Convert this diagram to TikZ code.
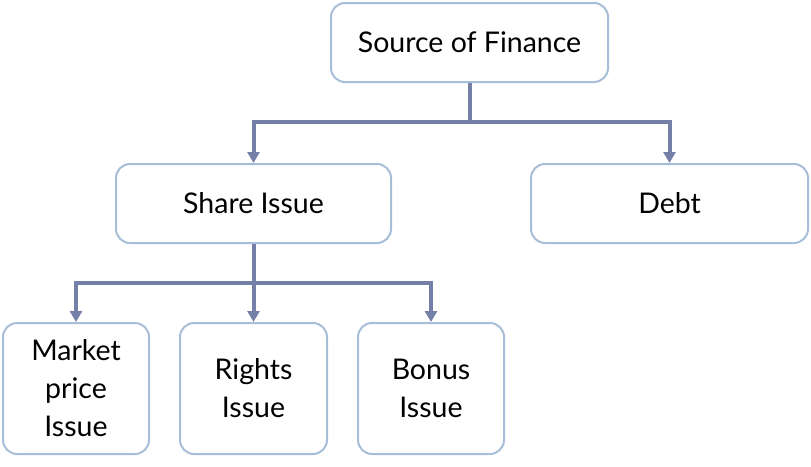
\documentclass[tikz,border=0pt]{standalone}
\usepackage{fontspec}
\setmainfont{Lato}
\usetikzlibrary{arrows.meta}
\definecolor{boxline}{HTML}{A7BED8}
\definecolor{linkline}{HTML}{7480A8}
\tikzset{
  fbox/.style={draw=boxline, line width=2pt, rounded corners=14pt, fill=white,
    align=center, font=\fontsize{28.5}{38}\selectfont, inner sep=0pt},
  link/.style={draw=linkline, line width=4pt},
  linkarrow/.style={link, -{Triangle[width=12pt,length=11pt]}}
}
\begin{document}
\begin{tikzpicture}[x=1pt,y=-1pt]
    \useasboundingbox (0,0) rectangle (811,466);
    \node[fbox, minimum width=277pt, minimum height=79pt] (src) at (469.5,42.5) {Source of Finance};
    \node[fbox, minimum width=275pt, minimum height=79pt] (share) at (253.5,203.5) {Share Issue};
    \node[fbox, minimum width=277pt, minimum height=79pt] (debt) at (669.5,203.5) {Debt};
    \node[fbox, minimum width=146pt, minimum height=131pt] (mkt) at (76,388.5) {Market\\price\\Issue};
    \node[fbox, minimum width=147pt, minimum height=131pt] (rights) at (253.5,388.5) {Rights\\Issue};
    \node[fbox, minimum width=146pt, minimum height=131pt] (bonus) at (431,388.5) {Bonus\\Issue};

    \draw[link] (src.south) -- ++(0,39) coordinate (j1);
    \draw[linkarrow] (j1) -| (share.north);
    \draw[linkarrow] (j1) -| (debt.north);

    \draw[link] (share.south) -- ++(0,39) coordinate (j2);
    \draw[linkarrow] (j2) -| (mkt.north);
    \draw[linkarrow] (j2) -- (rights.north);
    \draw[linkarrow] (j2) -| (bonus.north);
\end{tikzpicture}
\end{document}
